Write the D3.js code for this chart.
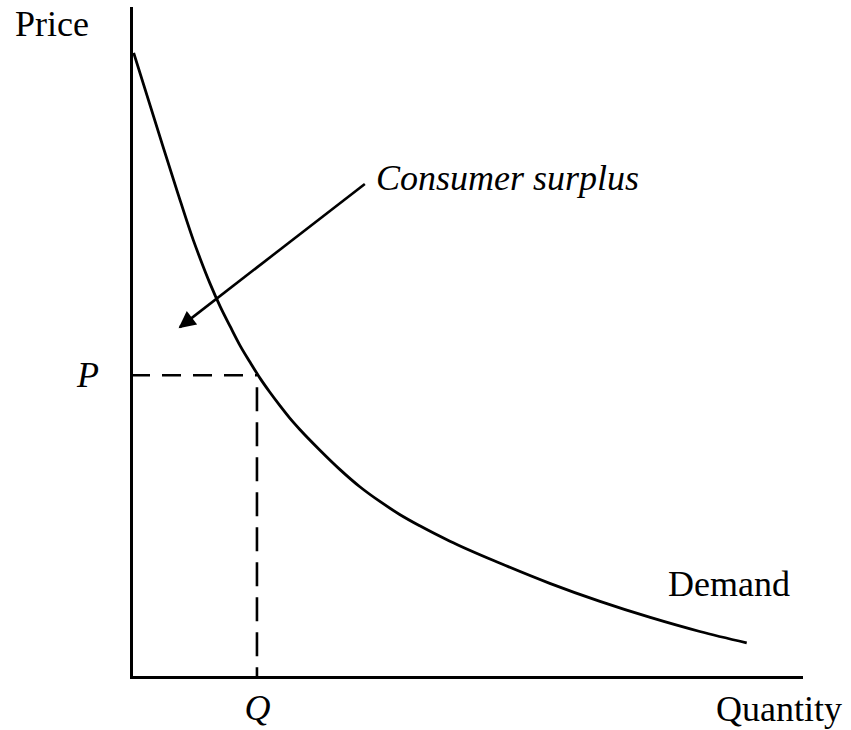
<!DOCTYPE html>
<html>
<head>
<meta charset="utf-8">
<script src="https://cdn.jsdelivr.net/npm/d3@7"></script>
<style>
  html, body { margin: 0; padding: 0; background: #fff; }
  svg { display: block; }
  text { font-family: "Liberation Serif", "Times New Roman", serif; fill: #000; }
</style>
</head>
<body>
<svg id="chart" width="851" height="730"></svg>
<script>
// ---- data ----
const demandQuantity = [0.04, 0.43, 0.69, 0.93, 1.03, 1.18, 1.33, 1.48, 1.63, 1.78, 1.93, 2.07, 2.22, 2.37, 2.52, 2.82, 3.12, 3.42, 3.72, 4.01, 4.31, 4.76, 5.51, 6.25, 7.00, 7.75, 8.49, 9.19];
const demandPrice    = [9.33, 8.08, 7.26, 6.53, 6.26, 5.88, 5.54, 5.24, 4.95, 4.70, 4.46, 4.26, 4.06, 3.87, 3.70, 3.39, 3.10, 2.84, 2.62, 2.43, 2.26, 2.03, 1.70, 1.40, 1.13, 0.89, 0.68, 0.51];
const priceTick = [4.51];
const priceTickLabels = ["P"];
const quantityTick = [1.88];
const quantityTickLabels = ["Q"];
const arrowStart = [3.49, 7.37];
const arrowEnd = [0.73, 5.23];
const axisTitles = ["Price", "Quantity"];
const curveLabel = "Demand";
const annotationLabel = "Consumer surplus";

const svg = d3.select("#chart");
const x = d3.scaleLinear().domain([0, 10]).range([131, 801]);
const y = d3.scaleLinear().domain([0, 10]).range([677, 8]);

// dashed guide lines
svg.append("line")
  .attr("x1", x(0)).attr("x2", x(quantityTick[0]))
  .attr("y1", y(priceTick[0])).attr("y2", y(priceTick[0]))
  .attr("stroke", "#000").attr("stroke-width", 2.6)
  .attr("stroke-dasharray", "19,12");
svg.append("line")
  .attr("x1", x(quantityTick[0])).attr("x2", x(quantityTick[0]))
  .attr("y1", y(priceTick[0]) + 12).attr("y2", y(0))
  .attr("stroke", "#000").attr("stroke-width", 2.6)
  .attr("stroke-dasharray", "24,11");

// axes
const xAxis = d3.axisBottom(x).tickValues(quantityTick)
  .tickFormat((d, i) => quantityTickLabels[i]).tickSize(0).tickSizeOuter(0).tickPadding(17);
const yAxis = d3.axisLeft(y).tickValues(priceTick)
  .tickFormat((d, i) => priceTickLabels[i]).tickSize(0).tickSizeOuter(0).tickPadding(32);

const gx = svg.append("g").attr("transform", `translate(0,${y(0)})`).call(xAxis);
const gy = svg.append("g").attr("transform", `translate(${x(0)},0)`).call(yAxis);
[gx, gy].forEach(g => {
  g.select(".domain").attr("stroke", "#000").attr("stroke-width", 3).attr("stroke-linecap", "square");
  g.selectAll("text")
    .attr("font-family", "'Liberation Serif', 'Times New Roman', serif")
    .attr("font-size", 36).attr("font-style", "italic").attr("fill", "#000");
});

// demand curve
const pts = demandQuantity.map((q, i) => [q, demandPrice[i]]);
svg.append("path")
  .datum(pts)
  .attr("fill", "none").attr("stroke", "#000").attr("stroke-width", 2.8)
  .attr("d", d3.line().x(d => x(d[0])).y(d => y(d[1])).curve(d3.curveMonotoneX));

// arrow
svg.append("defs").append("marker")
  .attr("id", "arrowhead").attr("viewBox", "0 0 10 10")
  .attr("refX", 9).attr("refY", 5)
  .attr("markerWidth", 8.5).attr("markerHeight", 6.5)
  .attr("markerUnits", "strokeWidth")
  .attr("orient", "auto")
  .append("path").attr("d", "M0,0L10,5L0,10Z").attr("fill", "#000");
svg.append("line")
  .attr("x1", x(arrowStart[0])).attr("y1", y(arrowStart[1]))
  .attr("x2", x(arrowEnd[0])).attr("y2", y(arrowEnd[1]))
  .attr("stroke", "#000").attr("stroke-width", 2.6)
  .attr("marker-end", "url(#arrowhead)");

// labels
svg.append("text").attr("x", 15).attr("y", 36).attr("font-size", 36).text(axisTitles[0]);
svg.append("text").attr("x", 716).attr("y", 721).attr("font-size", 36).text(axisTitles[1]);
svg.append("text").attr("x", 668).attr("y", 596).attr("font-size", 36).text(curveLabel);
svg.append("text").attr("x", 376).attr("y", 190).attr("font-size", 36).attr("font-style", "italic").text(annotationLabel);
</script>
</body>
</html>
